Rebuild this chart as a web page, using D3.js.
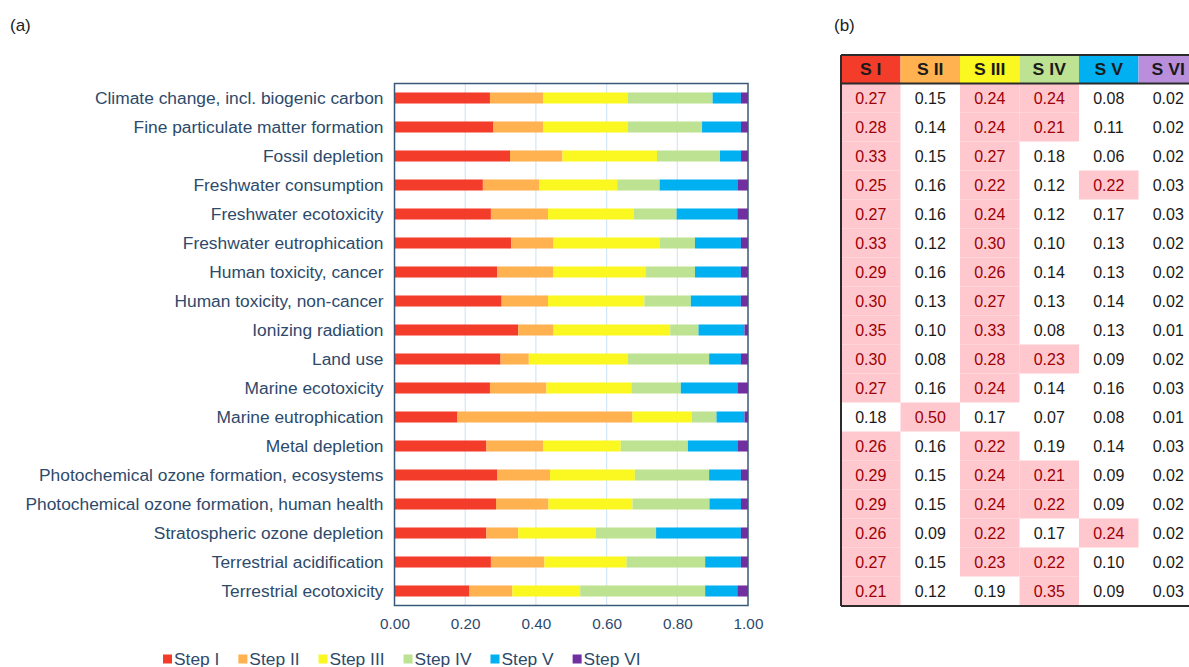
<!DOCTYPE html>
<html>
<head>
<meta charset="utf-8">
<script src="https://cdn.jsdelivr.net/npm/d3@7"></script>
<style>
  html, body { margin: 0; padding: 0; background: #fff; }
  svg { display: block; font-family: "Liberation Sans", Arial, sans-serif; }
</style>
</head>
<body>
<svg id="fig" width="1189" height="667"></svg>
<script>
// Impact categories, top to bottom
const categories = [
  "Climate change, incl. biogenic carbon",
  "Fine particulate matter formation",
  "Fossil depletion",
  "Freshwater consumption",
  "Freshwater ecotoxicity",
  "Freshwater eutrophication",
  "Human toxicity, cancer",
  "Human toxicity, non-cancer",
  "Ionizing radiation",
  "Land use",
  "Marine ecotoxicity",
  "Marine eutrophication",
  "Metal depletion",
  "Photochemical ozone formation, ecosystems",
  "Photochemical ozone formation, human health",
  "Stratospheric ozone depletion",
  "Terrestrial acidification",
  "Terrestrial ecotoxicity"
];

// Share of each process step per category
const stepI   = [0.27,0.28,0.33,0.25,0.27,0.33,0.29,0.30,0.35,0.30,0.27,0.18,0.26,0.29,0.29,0.26,0.27,0.21];
const stepII  = [0.15,0.14,0.15,0.16,0.16,0.12,0.16,0.13,0.10,0.08,0.16,0.50,0.16,0.15,0.15,0.09,0.15,0.12];
const stepIII = [0.24,0.24,0.27,0.22,0.24,0.30,0.26,0.27,0.33,0.28,0.24,0.17,0.22,0.24,0.24,0.22,0.23,0.19];
const stepIV  = [0.24,0.21,0.18,0.12,0.12,0.10,0.14,0.13,0.08,0.23,0.14,0.07,0.19,0.21,0.22,0.17,0.22,0.35];
const stepV   = [0.08,0.11,0.06,0.22,0.17,0.13,0.13,0.14,0.13,0.09,0.16,0.08,0.14,0.09,0.09,0.24,0.10,0.09];
const stepVI  = [0.02,0.02,0.02,0.03,0.03,0.02,0.02,0.02,0.01,0.02,0.03,0.01,0.03,0.02,0.02,0.02,0.02,0.03];

const stepNames   = ["Step I","Step II","Step III","Step IV","Step V","Step VI"];
const tableHeaders = ["S I","S II","S III","S IV","S V","S VI"];
const xTicks = [0, 0.2, 0.4, 0.6, 0.8, 1.0];
const highlightFrom = 0.20;

const stepSeries = [stepI, stepII, stepIII, stepIV, stepV, stepVI];
const barColors    = ["#f43c2b","#ffb24f","#fbf720","#bde291","#00b0f0","#7030a0"];
const headerColors = ["#f43c2b","#ffb24f","#fbf720","#bde291","#00b0f0","#b98fdc"];

const rows = categories.map((c, i) => {
  const r = { category: c };
  stepNames.forEach((k, j) => r[k] = stepSeries[j][i]);
  return r;
});

// widen glyphs slightly so labels keep their set width
function widen(sel, f) {
  sel.each(function () {
    const w = this.getComputedTextLength();
    d3.select(this).attr("textLength", w * f).attr("lengthAdjust", "spacingAndGlyphs");
  });
}

const svg = d3.select("#fig");
const ink = "#2d4a6b";
const wide = 1.085;

// ---------- (a) stacked bars ----------
const plot = { left: 394.5, right: 748, top: 83.5, bottom: 605.5 };
const x = d3.scaleLinear().domain([0, 1]).range([plot.left, plot.right]);
const y = d3.scaleBand().domain(categories).range([plot.top, plot.bottom]).paddingInner(0.62).paddingOuter(0.31);
const rowBand = d3.scaleBand().domain(categories).range([plot.top, plot.bottom]);

svg.append("text").attr("x", 10).attr("y", 31).attr("font-size", 17).attr("fill", "#222").text("(a)");

// vertical gridlines
svg.append("g").selectAll("line").data(xTicks.slice(1, -1)).join("line")
  .attr("x1", d => x(d)).attr("x2", d => x(d))
  .attr("y1", plot.top).attr("y2", plot.bottom)
  .attr("stroke", "#d5e6f6").attr("stroke-width", 1.2);

const stack = d3.stack().keys(stepNames).offset(d3.stackOffsetExpand);
const layers = stack(rows);

svg.append("g").selectAll("g").data(layers).join("g")
  .attr("fill", (d, i) => barColors[i])
  .selectAll("rect").data(d => d).join("rect")
  .attr("x", d => x(d[0]))
  .attr("width", d => x(d[1]) - x(d[0]))
  .attr("y", d => y(d.data.category))
  .attr("height", y.bandwidth());

// frame
svg.append("rect")
  .attr("x", plot.left).attr("y", plot.top)
  .attr("width", plot.right - plot.left).attr("height", plot.bottom - plot.top)
  .attr("fill", "none").attr("stroke", "#3a5877").attr("stroke-width", 1.5);

// category labels
const yAxis = svg.append("g").attr("transform", `translate(${plot.left},0)`)
  .call(d3.axisLeft(rowBand).tickSize(0).tickPadding(11));
yAxis.select(".domain").remove();
yAxis.selectAll("text").attr("font-size", 16).attr("fill", ink).attr("dy", "0.4em")
  .attr("font-family", "'Liberation Sans', Arial, sans-serif")
  .call(widen, wide);

// value axis
const xAxis = svg.append("g").attr("transform", `translate(0,${plot.bottom})`)
  .call(d3.axisBottom(x).tickValues(xTicks).tickFormat(d3.format(".2f")).tickSize(0).tickPadding(13));
xAxis.select(".domain").remove();
xAxis.selectAll("text").attr("font-size", 15).attr("fill", ink)
  .attr("font-family", "'Liberation Sans', Arial, sans-serif")
  .call(widen, 1.02);

// legend
const legend = svg.append("g").attr("transform", "translate(163,659)");
let lx = 0;
stepNames.forEach((name, i) => {
  const g = legend.append("g").attr("transform", `translate(${lx},0)`);
  g.append("rect").attr("x", 0).attr("y", -4.5).attr("width", 9).attr("height", 9).attr("fill", barColors[i]);
  const t = g.append("text").attr("x", 11).attr("y", 0).attr("dy", "0.38em")
    .attr("font-size", 16).attr("fill", ink).text(name);
  const w = t.node().getComputedTextLength() * wide;
  t.attr("textLength", w).attr("lengthAdjust", "spacingAndGlyphs");
  lx += 11 + w + 19;
});

// ---------- (b) table ----------
svg.append("text").attr("x", 834).attr("y", 31).attr("font-size", 17).attr("fill", "#222").text("(b)");

const tbl = { left: 841, top: 55, headerBottom: 83.5, bottom: 606 };
const col = d3.scaleBand().domain(tableHeaders).range([tbl.left, tbl.left + 59.5 * 6]);

const table = svg.append("g");
// header cells
table.selectAll("rect.h").data(tableHeaders).join("rect").attr("class", "h")
  .attr("x", d => col(d)).attr("y", tbl.top)
  .attr("width", col.bandwidth()).attr("height", tbl.headerBottom - tbl.top)
  .attr("fill", (d, i) => headerColors[i]);
table.selectAll("text.h").data(tableHeaders).join("text").attr("class", "h")
  .attr("x", d => col(d) + col.bandwidth() / 2).attr("y", (tbl.top + tbl.headerBottom) / 2)
  .attr("dy", "0.38em").attr("text-anchor", "middle")
  .attr("font-size", 16).attr("font-weight", "bold").attr("fill", "#1a1a1a").text(d => d)
  .call(widen, 1.1);

// body cells
const cells = [];
categories.forEach((c, i) => tableHeaders.forEach((h, j) => cells.push({ c, h, v: stepSeries[j][i] })));
table.selectAll("rect.c").data(cells.filter(d => d.v >= highlightFrom)).join("rect").attr("class", "c")
  .attr("x", d => col(d.h)).attr("y", d => rowBand(d.c))
  .attr("width", col.bandwidth()).attr("height", rowBand.bandwidth())
  .attr("fill", "#ffc7ce");
table.selectAll("text.c").data(cells).join("text").attr("class", "c")
  .attr("x", d => col(d.h) + col.bandwidth() / 2)
  .attr("y", d => rowBand(d.c) + rowBand.bandwidth() / 2)
  .attr("dy", "0.4em").attr("text-anchor", "middle").attr("font-size", 16)
  .attr("fill", d => d.v >= highlightFrom ? "#9c0006" : "#1a1a1a")
  .text(d => d3.format(".2f")(d.v));

// table borders
const border = "#2b2b2b";
table.append("line").attr("x1", tbl.left).attr("x2", 1189).attr("y1", tbl.top).attr("y2", tbl.top)
  .attr("stroke", border).attr("stroke-width", 2);
table.append("line").attr("x1", tbl.left).attr("x2", 1189).attr("y1", tbl.headerBottom).attr("y2", tbl.headerBottom)
  .attr("stroke", border).attr("stroke-width", 2);
table.append("line").attr("x1", tbl.left).attr("x2", 1189).attr("y1", tbl.bottom).attr("y2", tbl.bottom)
  .attr("stroke", border).attr("stroke-width", 2);
table.append("line").attr("x1", tbl.left).attr("x2", tbl.left).attr("y1", tbl.top).attr("y2", tbl.bottom)
  .attr("stroke", border).attr("stroke-width", 2);
</script>
</body>
</html>
